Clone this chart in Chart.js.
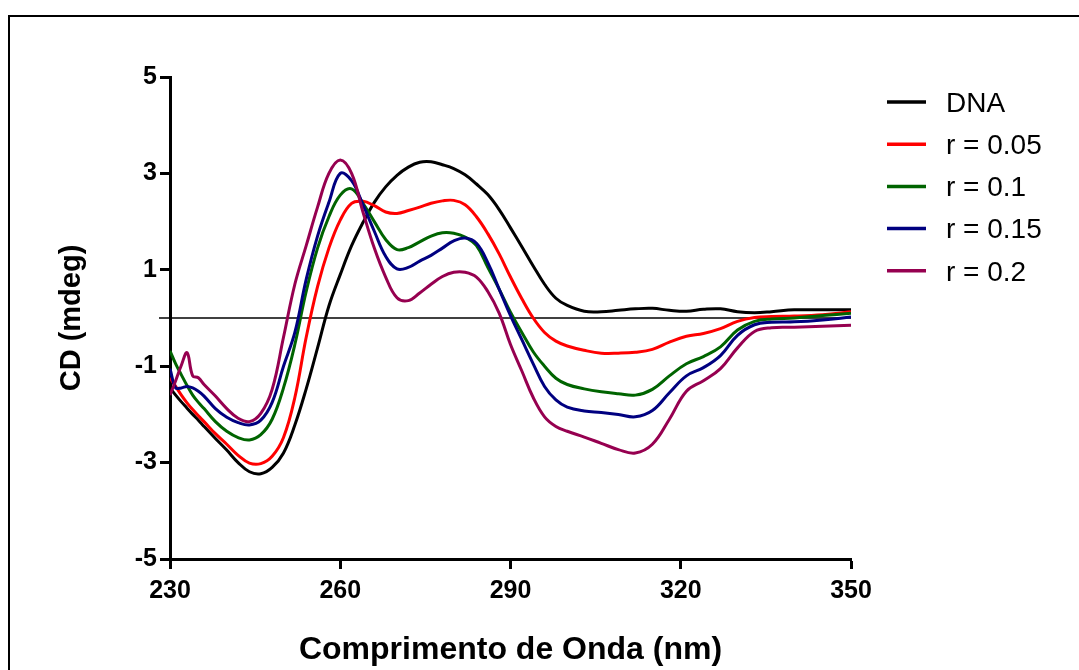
<!DOCTYPE html>
<html>
<head>
<meta charset="utf-8">
<script src="https://cdn.jsdelivr.net/npm/chart.js@4.4.1/dist/chart.umd.min.js"></script>
<style>
  body { margin: 0; background: #fff; overflow: hidden; }
  #wrap { position: relative; width: 1079px; height: 670px; }
  #frame { position: absolute; left: 8px; top: 15px; width: 1100px; height: 700px;
           border: 2px solid #000; pointer-events: none; }
  canvas { position: absolute; left: 0; top: 0; }
</style>
</head>
<body>
<div id="wrap">
  <canvas id="cdChart" width="1079" height="670"></canvas>
  <div id="frame"></div>
</div>
<script>
// wavelength grid (nm)
const wavelengths = [230, 231, 232, 233, 234, 235, 236, 238, 240, 242, 244, 246, 248, 250, 252, 254,
  256, 258, 260, 262, 264, 266, 268, 270, 272, 274, 276, 278, 280, 282, 284, 286, 288, 290, 292,
  294, 296, 298, 300, 303, 306, 309, 312, 315, 318, 321, 324, 327, 330, 333, 336, 340, 345, 350];

// CD signal (mdeg)
const dna = [-1.45, -1.6, -1.74, -1.87, -2.0, -2.12, -2.25, -2.5, -2.74, -3.0, -3.19, -3.23, -3.1,
  -2.8, -2.22, -1.47, -0.62, 0.25, 0.9, 1.5, 1.98, 2.4, 2.72, 2.96, 3.13, 3.23, 3.24, 3.18, 3.1,
  2.97, 2.78, 2.56, 2.25, 1.87, 1.48, 1.08, 0.7, 0.41, 0.26, 0.14, 0.13, 0.16, 0.19, 0.2, 0.16,
  0.14, 0.18, 0.19, 0.13, 0.11, 0.13, 0.17, 0.17, 0.17];
const r005 = [-1.24, -1.42, -1.6, -1.76, -1.9, -2.03, -2.15, -2.4, -2.62, -2.85, -3.01, -3.02, -2.87,
  -2.48, -1.65, -0.4, 0.65, 1.45, 2.03, 2.38, 2.42, 2.33, 2.2, 2.17, 2.23, 2.3, 2.38, 2.43, 2.44,
  2.35, 2.1, 1.75, 1.33, 0.85, 0.4, 0.0, -0.3, -0.48, -0.58, -0.67, -0.73, -0.73, -0.71, -0.65,
  -0.5, -0.38, -0.32, -0.22, -0.07, 0.01, 0.03, 0.04, 0.07, 0.13];
const r01 = [-0.68, -0.95, -1.18, -1.4, -1.6, -1.75, -1.88, -2.15, -2.35, -2.48, -2.53, -2.42, -2.1,
  -1.45, -0.55, 0.55, 1.45, 2.1, 2.55, 2.68, 2.38, 2.0, 1.63, 1.42, 1.46, 1.58, 1.7, 1.77, 1.76,
  1.68, 1.5, 1.05, 0.6, 0.12, -0.3, -0.7, -1.0, -1.25, -1.38, -1.47, -1.53, -1.57, -1.6, -1.48,
  -1.2, -0.95, -0.8, -0.6, -0.25, -0.07, -0.02, 0.0, 0.05, 0.1];
const r015 = [-1.05, -1.45, -1.45, -1.42, -1.45, -1.52, -1.62, -1.88, -2.06, -2.17, -2.22, -2.12, -1.75,
  -1.0, -0.3, 0.8, 1.7, 2.4, 3.0, 2.85, 2.35, 1.8, 1.28, 1.02, 1.05, 1.18, 1.3, 1.45, 1.6,
  1.66, 1.55, 1.15, 0.6, 0.05, -0.45, -0.95, -1.42, -1.7, -1.85, -1.93, -1.96, -2.0, -2.05, -1.92,
  -1.55, -1.2, -1.03, -0.78, -0.36, -0.14, -0.09, -0.08, -0.04, 0.02];
const r02 = [-1.6, -1.3, -0.98, -0.72, -1.2, -1.24, -1.38, -1.62, -1.88, -2.08, -2.15, -1.98, -1.48,
  -0.4, 0.7, 1.5, 2.3, 3.0, 3.28, 3.0, 2.2, 1.45, 0.85, 0.42, 0.36, 0.52, 0.7, 0.86, 0.95,
  0.95, 0.85, 0.55, 0.1, -0.55, -1.1, -1.65, -2.05, -2.25, -2.35, -2.47, -2.6, -2.73, -2.8, -2.62,
  -2.1, -1.52, -1.3, -1.05, -0.62, -0.28, -0.2, -0.19, -0.17, -0.15];

const seriesLabels = ["DNA", "r = 0.05", "r = 0.1", "r = 0.15", "r = 0.2"];
const seriesColors = ["#000000", "#ff0000", "#006400", "#000080", "#960050"];
const seriesValues = [dna, r005, r01, r015, r02];

const tickFont = { family: "'Liberation Sans', Arial, sans-serif", size: 25, weight: "bold" };

// thin line at CD = 0
const zeroLine = {
  id: "zeroLine",
  beforeDatasetsDraw(chart) {
    const ctx = chart.ctx, area = chart.chartArea;
    const y = chart.scales.y.getPixelForValue(0);
    ctx.save();
    ctx.strokeStyle = "#000";
    ctx.lineWidth = 1.5;
    ctx.beginPath();
    ctx.moveTo(area.left - 11, y);
    ctx.lineTo(area.right, y);
    ctx.stroke();
    ctx.restore();
  }
};

// legend on the right, like the original
const sideLegend = {
  id: "sideLegend",
  afterDraw(chart) {
    const ctx = chart.ctx;
    ctx.save();
    ctx.font = "28px 'Liberation Sans', Arial, sans-serif";
    ctx.textBaseline = "middle";
    ctx.fillStyle = "#000";
    chart.data.datasets.forEach((ds, i) => {
      const y = 102 + i * 42.2;
      ctx.strokeStyle = ds.borderColor;
      ctx.lineWidth = 3.5;
      ctx.beginPath();
      ctx.moveTo(887, y);
      ctx.lineTo(926, y);
      ctx.stroke();
      ctx.fillText(ds.label, 946, y + 2);
    });
    ctx.restore();
  }
};

new Chart(document.getElementById("cdChart"), {
  type: "line",
  data: {
    datasets: seriesLabels.map((label, i) => ({
      label: label,
      data: wavelengths.map((w, j) => ({ x: w, y: seriesValues[i][j] })),
      borderColor: seriesColors[i],
      borderWidth: 3,
      pointRadius: 0,
      tension: 0.4,
      fill: false,
      order: 5 - i
    }))
  },
  options: {
    responsive: false,
    animation: false,
    layout: { padding: { left: 0, top: 77, right: 228, bottom: 0 } },
    plugins: { legend: { display: false }, tooltip: { enabled: false } },
    scales: {
      x: {
        type: "linear",
        min: 230,
        max: 350,
        ticks: { stepSize: 30, color: "#000", font: tickFont, padding: 7 },
        grid: { drawOnChartArea: false, tickLength: 10, tickWidth: 3, color: "#000" },
        border: { color: "#000", width: 3 },
        title: {
          display: true,
          text: "Comprimento de Onda (nm)",
          color: "#000",
          font: { family: "'Liberation Sans', Arial, sans-serif", size: 32, weight: "bold" },
          padding: { top: 0, bottom: 1 }
        },
        afterFit: s => { s.height = 111; }
      },
      y: {
        min: -5,
        max: 5,
        ticks: { stepSize: 2, color: "#000", font: tickFont, padding: 3 },
        grid: { drawOnChartArea: false, tickLength: 10, tickWidth: 3, color: "#000" },
        border: { color: "#000", width: 3 },
        title: {
          display: true,
          text: "CD (mdeg)",
          color: "#000",
          font: { family: "'Liberation Sans', Arial, sans-serif", size: 29, weight: "bold" },
          padding: { top: 55, bottom: 0 }
        },
        afterFit: s => { s.width = 170; }
      }
    }
  },
  plugins: [zeroLine, sideLegend]
});
</script>
</body>
</html>
